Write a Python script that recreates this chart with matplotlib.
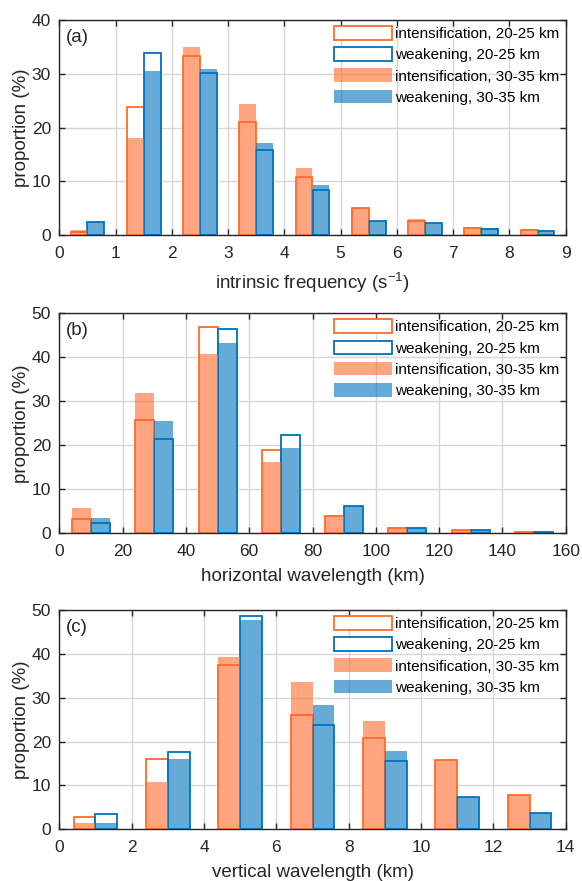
import matplotlib.pyplot as plt
import matplotlib as mpl

mpl.rcParams['font.family'] = ['Liberation Sans', 'DejaVu Sans']
mpl.rcParams['font.size'] = 12

# ---- data (proportion, %) ----
freq_bins = [0.5, 1.5, 2.5, 3.5, 4.5, 5.5, 6.5, 7.5, 8.5]
freq_int_20 = [0.7, 23.9, 33.3, 21.1, 10.8, 5.0, 2.7, 1.3, 1.0]
freq_weak_20 = [2.5, 33.8, 30.1, 15.8, 8.5, 2.7, 2.2, 1.2, 0.8]
freq_int_30 = [0.9, 18.1, 34.9, 24.4, 12.5, 5.0, 3.1, 1.3, 1.0]
freq_weak_30 = [2.5, 30.5, 30.9, 17.1, 9.4, 2.7, 2.3, 1.3, 0.8]

hwl_bins = [10, 30, 50, 70, 90, 110, 130, 150]
hwl_int_20 = [3.2, 25.8, 47.0, 19.0, 3.9, 1.1, 0.7, 0.2]
hwl_weak_20 = [2.4, 21.5, 46.4, 22.4, 6.2, 1.3, 0.7, 0.2]
hwl_int_30 = [5.7, 32.0, 40.7, 16.3, 3.9, 1.1, 0.7, 0.2]
hwl_weak_30 = [3.5, 25.5, 43.2, 19.5, 6.2, 1.3, 0.7, 0.2]

vwl_bins = [1, 3, 5, 7, 9, 11, 13]
vwl_int_20 = [2.9, 16.1, 37.4, 26.1, 20.8, 15.7, 7.9]
vwl_weak_20 = [3.4, 17.7, 48.7, 23.7, 15.5, 7.4, 3.7]
vwl_int_30 = [1.4, 10.7, 39.3, 33.5, 24.7, 15.7, 7.9]
vwl_weak_30 = [1.4, 16.1, 47.8, 28.4, 17.9, 7.4, 3.7]

labels = ['intensification, 20-25 km', 'weakening, 20-25 km',
          'intensification, 30-35 km', 'weakening, 30-35 km']
c_int = '#FF6A2B'
c_weak = '#0072BD'

panels = [
    dict(bins=freq_bins, bw=1, data=(freq_int_20, freq_weak_20, freq_int_30, freq_weak_30),
         xlim=(0, 9), xticks=range(0, 10, 1), ylim=(0, 40), yticks=range(0, 41, 10),
         xlabel='intrinsic frequency (s$^{\\mathregular{-1}}$)', tag='(a)',
         pos=[59.3, 20, 565.7, 235.3]),
    dict(bins=hwl_bins, bw=20, data=(hwl_int_20, hwl_weak_20, hwl_int_30, hwl_weak_30),
         xlim=(0, 160), xticks=range(0, 161, 20), ylim=(0, 50), yticks=range(0, 51, 10),
         xlabel='horizontal wavelength (km)', tag='(b)',
         pos=[59.3, 313.3, 565.7, 533.3]),
    dict(bins=vwl_bins, bw=2, data=(vwl_int_20, vwl_weak_20, vwl_int_30, vwl_weak_30),
         xlim=(0, 14), xticks=range(0, 15, 2), ylim=(0, 50), yticks=range(0, 51, 10),
         xlabel='vertical wavelength (km)', tag='(c)',
         pos=[59.3, 610, 565.7, 829.3]),
]

W, H = 582, 881
fig = plt.figure(figsize=(W / 100, H / 100), dpi=100)

for p in panels:
    x0, y0, x1, y1 = p['pos']
    ax = fig.add_axes([x0 / W, 1 - y1 / H, (x1 - x0) / W, (y1 - y0) / H])
    ax.set_axisbelow(True)
    w = 0.3 * p['bw']
    xi = [b - w / 2 for b in p['bins']]
    xw = [b + w / 2 for b in p['bins']]
    i20, w20, i30, w30 = p['data']
    # 20-25 km: outlined bars, 30-35 km: translucent filled bars on top
    ax.bar(xi, i20, width=w, facecolor='white', edgecolor=c_int, linewidth=1.3, label=labels[0], zorder=2)
    ax.bar(xw, w20, width=w, facecolor='white', edgecolor=c_weak, linewidth=1.3, label=labels[1], zorder=2)
    ax.bar(xi, i30, width=w, color=c_int, alpha=0.6, linewidth=0, label=labels[2], zorder=3)
    ax.bar(xw, w30, width=w, color=c_weak, alpha=0.6, linewidth=0, label=labels[3], zorder=3)

    ax.set_xlim(p['xlim'])
    ax.set_ylim(p['ylim'])
    ax.set_xticks(list(p['xticks']))
    ax.set_yticks(list(p['yticks']))
    ax.grid(True, color='#d6d6d6', linewidth=1)
    ax.tick_params(direction='in', length=4, width=1, top=True, right=True,
                   colors='#262626', labelsize=12.5)
    ax.tick_params(axis='x', pad=8)
    ax.tick_params(axis='y', pad=6)
    for s in ax.spines.values():
        s.set_color('#262626')
        s.set_linewidth(1)
    ax.set_xlabel(p['xlabel'], fontsize=13.5, color='#262626', labelpad=6)
    ax.set_ylabel('proportion (%)', fontsize=13.5, color='#262626', labelpad=1)
    ax.text(0.012, 0.96, p['tag'], transform=ax.transAxes, ha='left', va='top',
            fontsize=13.5, color='#262626')
    ax.legend(loc='upper right', frameon=False, handlelength=3.77, handleheight=1.0,
              handletextpad=0.25, labelspacing=0.4, borderaxespad=0.15, borderpad=0.25,
              fontsize=11)

fig.savefig('out.png', dpi=100)
